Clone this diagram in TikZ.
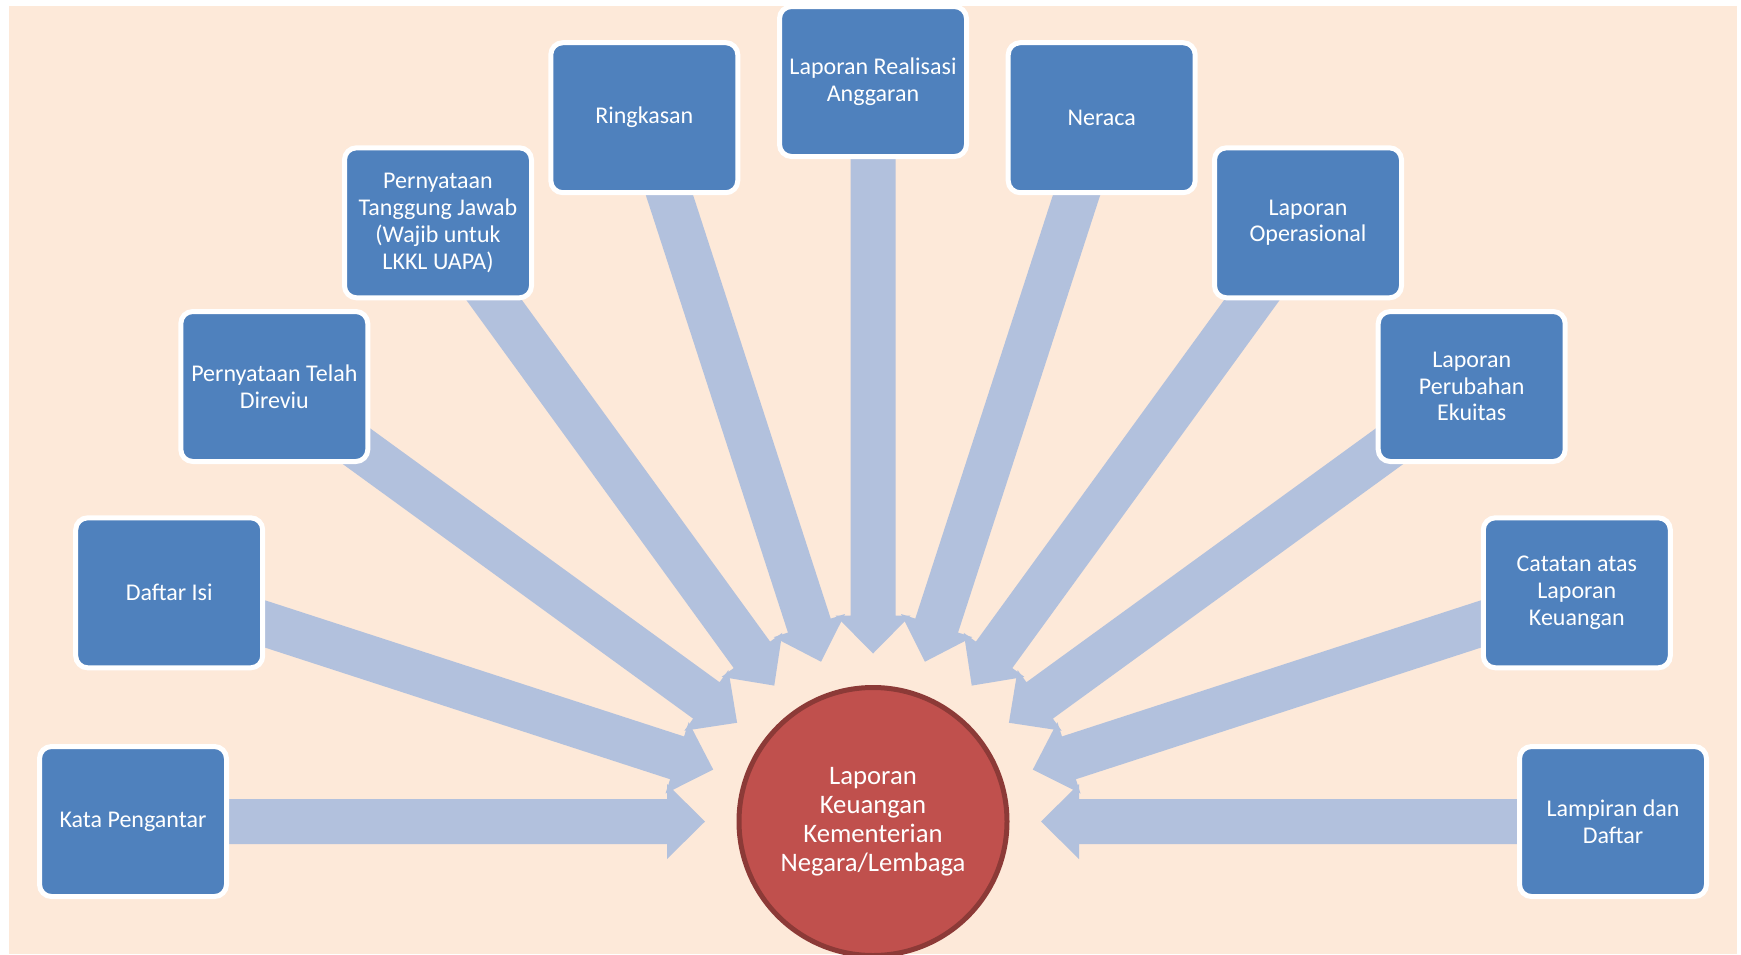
\documentclass[tikz,border=0pt]{standalone}
\usepackage{fontspec}
\setmainfont{Carlito}
\usetikzlibrary{calc}

\definecolor{pagebg}{HTML}{FDE9D9}
\definecolor{boxblue}{HTML}{4F81BD}
\definecolor{arrowblue}{HTML}{B2C1DD}
\definecolor{hubred}{HTML}{C0504D}
\definecolor{hubedge}{HTML}{8C3A37}

\pgfdeclarelayer{back}
\pgfdeclarelayer{arrows}
\pgfsetlayers{back,arrows,main}

\tikzset{
  part/.style={draw=white, line width=5pt, fill=boxblue, rounded corners=12pt,
    minimum width=187pt, minimum height=150pt, inner sep=0pt,
    text=white, align=center, font=\fontsize{24}{26.8}\selectfont},
  hub/.style={circle, draw=hubedge, line width=5pt, fill=hubred,
    minimum size=268pt, inner sep=0pt,
    text=white, align=center, font=\fontsize{26.7}{29}\selectfont},
  feed/.style={fill=arrowblue}
}

% block arrow from a source box (#1) towards the hub (#2)
\newcommand\feedarrow[2]{%
  \coordinate (fa-h) at ($(#2.center)!206pt!(#1.center)$);
  \coordinate (fa-p) at ($(#2.center)!168pt!(#1.center)$);
  \fill[feed] ($(#1.center)!22.5pt!90:(fa-p)$)
    -- ($(fa-h)!22.5pt!-90:(#1.center)$)
    -- ($(fa-h)!37.5pt!-90:(#1.center)$)
    -- (fa-p)
    -- ($(fa-h)!37.5pt!90:(#1.center)$)
    -- ($(fa-h)!22.5pt!90:(#1.center)$)
    -- ($(#1.center)!22.5pt!-90:(fa-p)$) -- cycle;}

\begin{document}
\begin{tikzpicture}[x=1pt,y=-1pt]
  \useasboundingbox (0,0) rectangle (1741,954);

  \begin{pgfonlayer}{back}
    \fill[white] (0,0) rectangle (1741,954);
    \fill[pagebg] (9,6) rectangle (1737,954);
  \end{pgfonlayer}

  % hub
  \node[hub] (hub) at (873,821.5) {Laporan\\Keuangan\\Kementerian\\Negara/Lembaga};

  % sources on a ring of radius 740 around the hub, 18 degrees apart
  \node[part] (kata)   at (133,821.5)    {Kata Pengantar};
  \node[part] (daftar) at (169.2,592.8)  {Daftar Isi};
  \node[part] (reviu)  at (274.3,386.5)  {Pernyataan Telah\\Direviu};
  \node[part] (tjawab) at (438.0,222.8)  {Pernyataan\\Tanggung Jawab\\(Wajib untuk\\LKKL UAPA)};
  \node[part] (ringk)  at (644.3,117.7)  {Ringkasan};
  \node[part] (lra)    at (873,81.5)     {Laporan Realisasi\\Anggaran};
  \node[part] (neraca) at (1101.7,117.7) {Neraca};
  \node[part] (lo)     at (1308,222.8)   {Laporan\\Operasional};
  \node[part] (lpe)    at (1471.7,386.5) {Laporan\\Perubahan\\Ekuitas};
  \node[part] (calk)   at (1576.8,592.8) {Catatan atas\\Laporan\\Keuangan};
  \node[part] (lamp)   at (1613,821.5)   {Lampiran dan\\Daftar};

  \begin{pgfonlayer}{arrows}
    \foreach \src in {kata,daftar,reviu,tjawab,ringk,lra,neraca,lo,lpe,calk,lamp}
      {\feedarrow{\src}{hub}}
  \end{pgfonlayer}
\end{tikzpicture}
\end{document}
